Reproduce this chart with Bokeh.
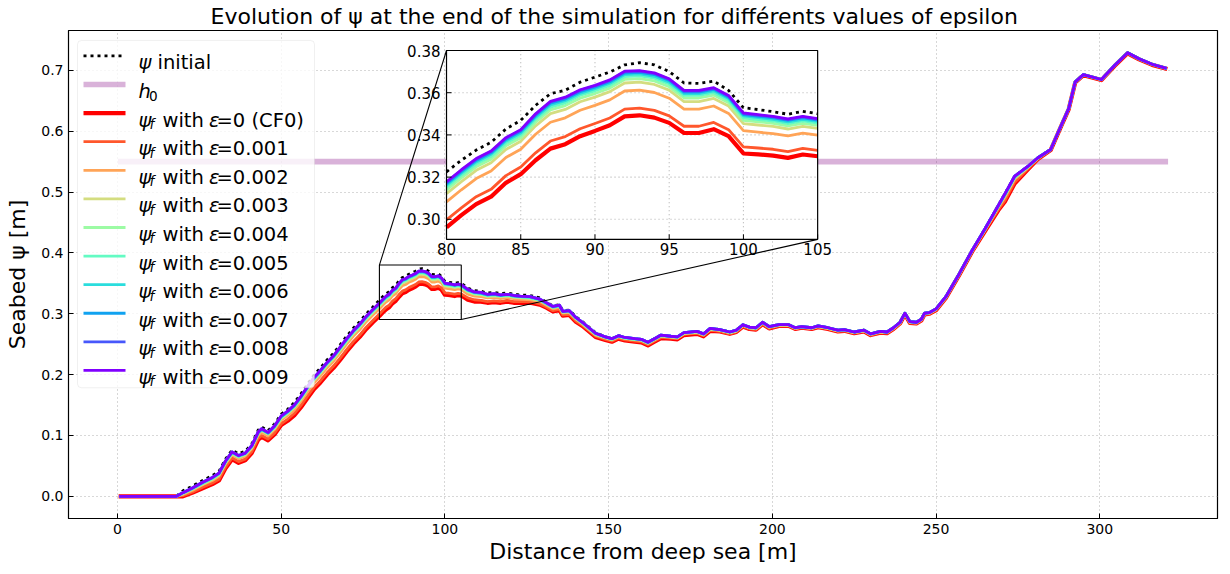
from bokeh.plotting import figure
from bokeh.models import Range1d, FixedTicker, PrintfTickFormatter, Label, BoxAnnotation
from bokeh.core.properties import value
from bokeh.embed import file_html
from bokeh.resources import INLINE

# ---------------- data ----------------
x_m = [1, 18, 20, 23, 26, 29, 31, 33, 35, 37, 39, 41, 43, 44, 46, 48, 50, 52, 54, 56, 58, 60, 62, 64, 66, 68, 70, 72, 74, 76, 78,
       80, 81, 82, 83, 84, 85, 86, 87, 88, 89, 90, 91, 92, 93, 94, 95, 96, 97, 98, 99, 100, 101, 102, 103, 104, 105,
       107, 109, 111, 113, 115, 117, 119, 121, 123, 126, 129, 131, 133, 135, 136, 138, 140, 142, 144, 146,
       149, 151, 153, 155, 158, 160, 162, 164, 166, 169, 171, 173, 177, 179, 181, 184, 187, 189, 191, 193,
       195, 197, 199, 202, 205, 207, 209, 212, 214, 217, 220, 222, 225, 228, 230, 233, 235, 237, 239, 240.5,
       242, 244, 245.5, 246.5, 248, 250, 253, 257, 261, 265, 269, 271, 274, 278, 281, 285, 288, 290.5, 292.5, 295,
       300.5, 304.5, 308.5, 312, 316, 320]

psi_initial = [0, 0, 0.009, 0.017, 0.026, 0.034, 0.041, 0.061, 0.076, 0.070, 0.074, 0.086, 0.109, 0.114, 0.108, 0.119, 0.135, 0.143, 0.154, 0.168, 0.184, 0.199, 0.211, 0.224, 0.235, 0.249, 0.263, 0.276, 0.287, 0.300, 0.311,
               0.3225, 0.3280, 0.3328, 0.3365, 0.3428, 0.3469, 0.3540, 0.3595, 0.3612, 0.3650, 0.3674, 0.3698, 0.3732, 0.3742, 0.3732, 0.3700, 0.3646, 0.3644, 0.3655, 0.3611, 0.3529, 0.3520, 0.3510, 0.3498, 0.3512, 0.3500,
               0.342, 0.338, 0.337, 0.334, 0.335, 0.333, 0.334, 0.332, 0.331, 0.330, 0.326, 0.319, 0.313, 0.315, 0.305, 0.306, 0.295, 0.287, 0.278, 0.269,
               0.262, 0.259, 0.264, 0.261, 0.259, 0.258, 0.253, 0.259, 0.265, 0.263, 0.262, 0.269, 0.271, 0.267, 0.276, 0.274, 0.270, 0.273, 0.282, 0.278,
               0.277, 0.286, 0.279, 0.282, 0.282, 0.277, 0.279, 0.277, 0.280, 0.277, 0.273, 0.274, 0.270, 0.273, 0.267, 0.271, 0.270, 0.277, 0.286, 0.301,
               0.287, 0.286, 0.291, 0.301, 0.302, 0.308, 0.328, 0.365, 0.404, 0.440, 0.478, 0.497, 0.526, 0.542, 0.556, 0.570, 0.607, 0.637, 0.681, 0.693,
               0.685, 0.708, 0.729, 0.719, 0.710, 0.704]

psi_f_eps0 = [0, 0, 0.000, 0.006, 0.013, 0.020, 0.026, 0.046, 0.061, 0.055, 0.059, 0.071, 0.093, 0.098, 0.092, 0.102, 0.117, 0.124, 0.133, 0.146, 0.161, 0.176, 0.187, 0.200, 0.211, 0.224, 0.238, 0.251, 0.262, 0.275, 0.286,
              0.2962, 0.3020, 0.3072, 0.3107, 0.3173, 0.3214, 0.3280, 0.3335, 0.3356, 0.3394, 0.3419, 0.3446, 0.3488, 0.3493, 0.3482, 0.3457, 0.3409, 0.3409, 0.3427, 0.3394, 0.3312, 0.3308, 0.3302, 0.3291, 0.3307, 0.3299,
              0.323, 0.320, 0.320, 0.318, 0.319, 0.318, 0.320, 0.318, 0.318, 0.318, 0.315, 0.310, 0.304, 0.306, 0.297, 0.298, 0.287, 0.280, 0.271, 0.262,
              0.257, 0.254, 0.259, 0.256, 0.254, 0.253, 0.248, 0.254, 0.260, 0.259, 0.258, 0.265, 0.267, 0.263, 0.272, 0.271, 0.267, 0.270, 0.279, 0.275,
              0.274, 0.283, 0.276, 0.280, 0.280, 0.275, 0.277, 0.275, 0.278, 0.275, 0.271, 0.272, 0.268, 0.271, 0.265, 0.269, 0.268, 0.275, 0.284, 0.299,
              0.285, 0.284, 0.289, 0.299, 0.300, 0.306, 0.326, 0.363, 0.402, 0.436, 0.470, 0.484, 0.514, 0.537, 0.554, 0.569, 0.606, 0.636, 0.680, 0.692,
              0.684, 0.707, 0.728, 0.718, 0.709, 0.703]

psi_f_eps1 = [0, 0, 0.001, 0.007, 0.015, 0.022, 0.028, 0.048, 0.063, 0.057, 0.061, 0.073, 0.095, 0.100, 0.094, 0.104, 0.119, 0.127, 0.136, 0.149, 0.164, 0.179, 0.190, 0.203, 0.214, 0.227, 0.241, 0.254, 0.265, 0.278, 0.289,
              0.2997, 0.3054, 0.3107, 0.3142, 0.3207, 0.3248, 0.3315, 0.3371, 0.3392, 0.3429, 0.3454, 0.3480, 0.3522, 0.3527, 0.3516, 0.3490, 0.3441, 0.3441, 0.3459, 0.3425, 0.3343, 0.3338, 0.3332, 0.3321, 0.3336, 0.3327,
              0.326, 0.323, 0.322, 0.320, 0.321, 0.320, 0.322, 0.320, 0.320, 0.320, 0.316, 0.311, 0.305, 0.307, 0.298, 0.299, 0.288, 0.281, 0.272, 0.263,
              0.258, 0.255, 0.260, 0.257, 0.255, 0.254, 0.249, 0.255, 0.261, 0.260, 0.259, 0.266, 0.268, 0.264, 0.273, 0.271, 0.267, 0.270, 0.279, 0.275,
              0.274, 0.283, 0.276, 0.280, 0.280, 0.275, 0.277, 0.275, 0.278, 0.275, 0.271, 0.272, 0.268, 0.271, 0.265, 0.269, 0.268, 0.275, 0.284, 0.299,
              0.285, 0.284, 0.289, 0.299, 0.300, 0.306, 0.326, 0.363, 0.402, 0.437, 0.471, 0.486, 0.516, 0.538, 0.554, 0.569, 0.606, 0.636, 0.680, 0.692,
              0.684, 0.707, 0.728, 0.718, 0.709, 0.703]

psi_f_eps2 = [0, 0, 0.003, 0.010, 0.019, 0.026, 0.033, 0.053, 0.068, 0.062, 0.066, 0.078, 0.100, 0.105, 0.099, 0.110, 0.125, 0.133, 0.142, 0.156, 0.171, 0.186, 0.198, 0.211, 0.222, 0.236, 0.250, 0.263, 0.274, 0.287, 0.298,
              0.3083, 0.3140, 0.3193, 0.3229, 0.3293, 0.3332, 0.3403, 0.3460, 0.3481, 0.3517, 0.3540, 0.3566, 0.3608, 0.3612, 0.3601, 0.3574, 0.3522, 0.3522, 0.3537, 0.3502, 0.3420, 0.3413, 0.3406, 0.3395, 0.3408, 0.3399,
              0.332, 0.329, 0.328, 0.326, 0.327, 0.325, 0.327, 0.325, 0.324, 0.323, 0.320, 0.314, 0.308, 0.310, 0.301, 0.302, 0.291, 0.283, 0.274, 0.265,
              0.260, 0.257, 0.262, 0.259, 0.257, 0.256, 0.251, 0.257, 0.263, 0.261, 0.260, 0.267, 0.269, 0.265, 0.274, 0.273, 0.269, 0.272, 0.281, 0.277,
              0.276, 0.285, 0.278, 0.281, 0.281, 0.276, 0.278, 0.276, 0.279, 0.276, 0.272, 0.273, 0.269, 0.272, 0.266, 0.270, 0.269, 0.276, 0.285, 0.300,
              0.286, 0.285, 0.290, 0.300, 0.301, 0.307, 0.327, 0.364, 0.403, 0.438, 0.474, 0.491, 0.521, 0.540, 0.555, 0.570, 0.607, 0.637, 0.681, 0.693,
              0.685, 0.708, 0.729, 0.719, 0.710, 0.704]

psi_f_eps3 = [0, 0, 0.004, 0.012, 0.020, 0.028, 0.035, 0.055, 0.070, 0.064, 0.068, 0.080, 0.103, 0.108, 0.102, 0.112, 0.128, 0.136, 0.146, 0.159, 0.175, 0.190, 0.202, 0.215, 0.226, 0.240, 0.254, 0.267, 0.278, 0.291, 0.302,
              0.3122, 0.3179, 0.3232, 0.3268, 0.3331, 0.3370, 0.3443, 0.3501, 0.3521, 0.3557, 0.3579, 0.3605, 0.3646, 0.3650, 0.3639, 0.3612, 0.3558, 0.3558, 0.3573, 0.3537, 0.3454, 0.3447, 0.3440, 0.3428, 0.3441, 0.3431,
              0.336, 0.332, 0.331, 0.328, 0.329, 0.328, 0.329, 0.327, 0.326, 0.325, 0.322, 0.316, 0.310, 0.312, 0.302, 0.303, 0.292, 0.284, 0.275, 0.266,
              0.261, 0.258, 0.263, 0.260, 0.258, 0.257, 0.252, 0.258, 0.264, 0.262, 0.261, 0.268, 0.270, 0.266, 0.275, 0.273, 0.269, 0.272, 0.281, 0.277,
              0.276, 0.285, 0.278, 0.281, 0.281, 0.276, 0.278, 0.276, 0.279, 0.276, 0.272, 0.273, 0.269, 0.272, 0.266, 0.270, 0.269, 0.276, 0.285, 0.300,
              0.286, 0.285, 0.290, 0.300, 0.301, 0.307, 0.327, 0.364, 0.403, 0.439, 0.476, 0.494, 0.523, 0.541, 0.555, 0.570, 0.607, 0.637, 0.681, 0.693,
              0.685, 0.708, 0.729, 0.719, 0.710, 0.704]

psi_f_eps4 = [0, 0, 0.005, 0.013, 0.021, 0.029, 0.036, 0.056, 0.071, 0.065, 0.069, 0.081, 0.104, 0.109, 0.103, 0.114, 0.129, 0.137, 0.147, 0.161, 0.177, 0.192, 0.204, 0.217, 0.228, 0.241, 0.255, 0.268, 0.279, 0.292, 0.303,
              0.3139, 0.3196, 0.3249, 0.3285, 0.3348, 0.3387, 0.3460, 0.3519, 0.3539, 0.3574, 0.3596, 0.3622, 0.3663, 0.3667, 0.3656, 0.3628, 0.3575, 0.3575, 0.3589, 0.3552, 0.3469, 0.3462, 0.3455, 0.3443, 0.3455, 0.3445,
              0.337, 0.333, 0.332, 0.330, 0.331, 0.329, 0.330, 0.328, 0.327, 0.326, 0.322, 0.317, 0.311, 0.313, 0.303, 0.304, 0.293, 0.285, 0.276, 0.267,
              0.261, 0.258, 0.263, 0.260, 0.258, 0.257, 0.252, 0.258, 0.264, 0.262, 0.261, 0.268, 0.270, 0.266, 0.275, 0.273, 0.269, 0.272, 0.281, 0.277,
              0.276, 0.285, 0.278, 0.282, 0.282, 0.277, 0.279, 0.277, 0.280, 0.277, 0.273, 0.274, 0.270, 0.273, 0.267, 0.271, 0.270, 0.277, 0.286, 0.301,
              0.287, 0.286, 0.291, 0.301, 0.302, 0.308, 0.328, 0.365, 0.404, 0.439, 0.477, 0.495, 0.524, 0.541, 0.556, 0.570, 0.607, 0.637, 0.681, 0.693,
              0.685, 0.708, 0.729, 0.719, 0.710, 0.704]

psi_f_eps5 = [0, 0, 0.005, 0.013, 0.022, 0.030, 0.037, 0.057, 0.072, 0.066, 0.070, 0.082, 0.105, 0.110, 0.104, 0.114, 0.130, 0.138, 0.148, 0.162, 0.178, 0.193, 0.205, 0.218, 0.229, 0.243, 0.257, 0.270, 0.281, 0.294, 0.305,
              0.3152, 0.3209, 0.3262, 0.3298, 0.3361, 0.3400, 0.3474, 0.3532, 0.3552, 0.3588, 0.3609, 0.3635, 0.3676, 0.3680, 0.3669, 0.3641, 0.3587, 0.3587, 0.3600, 0.3564, 0.3481, 0.3473, 0.3466, 0.3454, 0.3466, 0.3456,
              0.338, 0.334, 0.333, 0.330, 0.331, 0.330, 0.331, 0.329, 0.328, 0.327, 0.323, 0.317, 0.311, 0.313, 0.303, 0.304, 0.293, 0.285, 0.276, 0.267,
              0.261, 0.258, 0.263, 0.260, 0.258, 0.257, 0.252, 0.258, 0.264, 0.263, 0.262, 0.269, 0.271, 0.267, 0.276, 0.274, 0.270, 0.273, 0.282, 0.278,
              0.277, 0.286, 0.279, 0.282, 0.282, 0.277, 0.279, 0.277, 0.280, 0.277, 0.273, 0.274, 0.270, 0.273, 0.267, 0.271, 0.270, 0.277, 0.286, 0.301,
              0.287, 0.286, 0.291, 0.301, 0.302, 0.308, 0.328, 0.365, 0.404, 0.440, 0.477, 0.496, 0.525, 0.541, 0.556, 0.570, 0.607, 0.637, 0.681, 0.693,
              0.685, 0.708, 0.729, 0.719, 0.710, 0.704]

psi_f_eps6 = [0, 0, 0.006, 0.013, 0.022, 0.030, 0.037, 0.057, 0.072, 0.066, 0.070, 0.082, 0.105, 0.110, 0.104, 0.115, 0.131, 0.139, 0.149, 0.163, 0.179, 0.194, 0.206, 0.219, 0.230, 0.244, 0.258, 0.271, 0.282, 0.295, 0.306,
              0.3162, 0.3219, 0.3272, 0.3308, 0.3371, 0.3409, 0.3483, 0.3542, 0.3562, 0.3597, 0.3619, 0.3645, 0.3686, 0.3689, 0.3678, 0.3650, 0.3596, 0.3596, 0.3609, 0.3573, 0.3490, 0.3482, 0.3474, 0.3462, 0.3474, 0.3464,
              0.339, 0.335, 0.334, 0.331, 0.332, 0.330, 0.331, 0.329, 0.328, 0.327, 0.323, 0.317, 0.311, 0.313, 0.304, 0.305, 0.294, 0.286, 0.277, 0.268,
              0.262, 0.259, 0.264, 0.261, 0.259, 0.258, 0.253, 0.259, 0.265, 0.263, 0.262, 0.269, 0.271, 0.267, 0.276, 0.274, 0.270, 0.273, 0.282, 0.278,
              0.277, 0.286, 0.279, 0.282, 0.282, 0.277, 0.279, 0.277, 0.280, 0.277, 0.273, 0.274, 0.270, 0.273, 0.267, 0.271, 0.270, 0.277, 0.286, 0.301,
              0.287, 0.286, 0.291, 0.301, 0.302, 0.308, 0.328, 0.365, 0.404, 0.440, 0.477, 0.496, 0.525, 0.542, 0.556, 0.570, 0.607, 0.637, 0.681, 0.693,
              0.685, 0.708, 0.729, 0.719, 0.710, 0.704]

psi_f_eps7 = [0, 0, 0.006, 0.014, 0.023, 0.031, 0.038, 0.058, 0.073, 0.067, 0.071, 0.083, 0.105, 0.110, 0.104, 0.115, 0.131, 0.139, 0.149, 0.163, 0.179, 0.194, 0.206, 0.219, 0.230, 0.244, 0.258, 0.271, 0.282, 0.295, 0.306,
              0.3169, 0.3226, 0.3279, 0.3315, 0.3378, 0.3417, 0.3491, 0.3550, 0.3570, 0.3605, 0.3626, 0.3652, 0.3693, 0.3697, 0.3686, 0.3658, 0.3603, 0.3603, 0.3616, 0.3579, 0.3496, 0.3488, 0.3481, 0.3469, 0.3481, 0.3470,
              0.339, 0.335, 0.334, 0.331, 0.332, 0.330, 0.332, 0.330, 0.329, 0.328, 0.324, 0.318, 0.312, 0.314, 0.304, 0.305, 0.294, 0.286, 0.277, 0.268,
              0.262, 0.259, 0.264, 0.261, 0.259, 0.258, 0.253, 0.259, 0.265, 0.263, 0.262, 0.269, 0.271, 0.267, 0.276, 0.274, 0.270, 0.273, 0.282, 0.278,
              0.277, 0.286, 0.279, 0.282, 0.282, 0.277, 0.279, 0.277, 0.280, 0.277, 0.273, 0.274, 0.270, 0.273, 0.267, 0.271, 0.270, 0.277, 0.286, 0.301,
              0.287, 0.286, 0.291, 0.301, 0.302, 0.308, 0.328, 0.365, 0.404, 0.440, 0.478, 0.496, 0.526, 0.542, 0.556, 0.570, 0.607, 0.637, 0.681, 0.693,
              0.685, 0.708, 0.729, 0.719, 0.710, 0.704]

psi_f_eps8 = [0, 0, 0.006, 0.014, 0.023, 0.031, 0.038, 0.058, 0.073, 0.067, 0.071, 0.083, 0.106, 0.111, 0.105, 0.116, 0.132, 0.140, 0.150, 0.164, 0.180, 0.195, 0.207, 0.220, 0.231, 0.245, 0.259, 0.272, 0.283, 0.296, 0.307,
              0.3175, 0.3232, 0.3285, 0.3321, 0.3384, 0.3422, 0.3497, 0.3556, 0.3576, 0.3611, 0.3632, 0.3658, 0.3699, 0.3702, 0.3691, 0.3663, 0.3608, 0.3608, 0.3621, 0.3584, 0.3501, 0.3493, 0.3485, 0.3473, 0.3485, 0.3474,
              0.340, 0.336, 0.335, 0.332, 0.333, 0.331, 0.332, 0.330, 0.329, 0.328, 0.324, 0.318, 0.312, 0.314, 0.304, 0.305, 0.294, 0.286, 0.277, 0.268,
              0.262, 0.259, 0.264, 0.261, 0.259, 0.258, 0.253, 0.259, 0.265, 0.263, 0.262, 0.269, 0.271, 0.267, 0.276, 0.274, 0.270, 0.273, 0.282, 0.278,
              0.277, 0.286, 0.279, 0.282, 0.282, 0.277, 0.279, 0.277, 0.280, 0.277, 0.273, 0.274, 0.270, 0.273, 0.267, 0.271, 0.270, 0.277, 0.286, 0.301,
              0.287, 0.286, 0.291, 0.301, 0.302, 0.308, 0.328, 0.365, 0.404, 0.440, 0.478, 0.497, 0.526, 0.542, 0.556, 0.570, 0.607, 0.637, 0.681, 0.693,
              0.685, 0.708, 0.729, 0.719, 0.710, 0.704]

psi_f_eps9 = [0, 0, 0.006, 0.014, 0.023, 0.031, 0.038, 0.058, 0.073, 0.067, 0.071, 0.083, 0.106, 0.111, 0.105, 0.116, 0.132, 0.140, 0.150, 0.164, 0.180, 0.195, 0.207, 0.220, 0.231, 0.245, 0.259, 0.272, 0.283, 0.296, 0.307,
              0.3178, 0.3235, 0.3288, 0.3324, 0.3387, 0.3425, 0.3500, 0.3559, 0.3579, 0.3614, 0.3635, 0.3661, 0.3702, 0.3705, 0.3694, 0.3666, 0.3611, 0.3611, 0.3624, 0.3587, 0.3504, 0.3496, 0.3488, 0.3476, 0.3488, 0.3477,
              0.340, 0.336, 0.335, 0.332, 0.333, 0.331, 0.332, 0.330, 0.329, 0.328, 0.324, 0.318, 0.312, 0.314, 0.304, 0.305, 0.294, 0.286, 0.277, 0.268,
              0.262, 0.259, 0.264, 0.261, 0.259, 0.258, 0.253, 0.259, 0.265, 0.263, 0.262, 0.269, 0.271, 0.267, 0.276, 0.274, 0.270, 0.273, 0.282, 0.278,
              0.277, 0.286, 0.279, 0.282, 0.282, 0.277, 0.279, 0.277, 0.280, 0.277, 0.273, 0.274, 0.270, 0.273, 0.267, 0.271, 0.270, 0.277, 0.286, 0.301,
              0.287, 0.286, 0.291, 0.301, 0.302, 0.308, 0.328, 0.365, 0.404, 0.440, 0.478, 0.497, 0.526, 0.542, 0.556, 0.570, 0.607, 0.637, 0.681, 0.693,
              0.685, 0.708, 0.729, 0.719, 0.710, 0.704]

epsilons = ["0", "0.001", "0.002", "0.003", "0.004", "0.005", "0.006", "0.007", "0.008", "0.009"]
series_colors = ["#ff0000", "#ff572c", "#ffa457", "#d4dd80", "#9cfba4", "#63fbc3", "#2adddd", "#10a2f0", "#4757fb", "#8000ff"]
h0_x = [1, 320]
h0_y = [0.55, 0.55]

x_ticks = [0, 50, 100, 150, 200, 250, 300]
y_ticks = [0.0, 0.1, 0.2, 0.3, 0.4, 0.5, 0.6, 0.7]
inset_x_ticks = [80, 85, 90, 95, 100, 105]
inset_y_ticks = [0.30, 0.32, 0.34, 0.36, 0.38]
inset_xlim = (80, 105)
inset_ylim = (0.2905, 0.38)
inset_box = (0.329, 0.572, 0.652, 0.959)   # left, bottom, right, top (axes fraction)

title_text = "Evolution of ψ at the end of the simulation for différents values of epsilon"

# ---------------- layout ----------------
W, H = 1222, 566
BL, BR, BT, BB = 68, 5, 30, 47
FW, FH = W - BL - BR, H - BT - BB
FONT = "DejaVu Sans"

xr = Range1d(-14.95, 335.95)
yr = Range1d(-0.0365, 0.7655)

p = figure(width=W, height=H, x_range=xr, y_range=yr, output_backend="svg",
           toolbar_location=None, min_border_left=BL, min_border_right=BR,
           min_border_top=BT, min_border_bottom=BB)
p.outline_line_color = "black"
p.outline_line_width = 1.2
p.background_fill_color = "white"
p.border_fill_color = "white"

p.title.text = title_text
p.title.text_font = FONT
p.title.text_font_size = "22px"
p.title.text_font_style = "normal"
p.title.text_color = "black"
p.title.align = "left"
p.title.offset = 142
p.title.standoff = 3

for ax in (p.xaxis[0], p.yaxis[0]):
    ax.major_tick_in = 5
    ax.major_tick_out = 0
    ax.minor_tick_line_color = None
    ax.major_tick_line_color = "black"
    ax.axis_line_color = "black"
    ax.major_label_text_font = FONT
    ax.major_label_text_font_size = "14px"
    ax.major_label_text_color = "black"
    ax.major_label_standoff = 5
    ax.axis_label_text_font = FONT
    ax.axis_label_text_font_size = "22px"
    ax.axis_label_text_font_style = "normal"
    ax.axis_label_text_color = "black"
p.xaxis.ticker = FixedTicker(ticks=x_ticks)
p.yaxis.ticker = FixedTicker(ticks=y_ticks)
p.yaxis.formatter = PrintfTickFormatter(format="%.1f")
p.xaxis.axis_label = "Distance from deep sea [m]"
p.yaxis.axis_label = "Seabed ψ [m]"
p.xaxis.axis_label_standoff = 2
p.yaxis.axis_label_standoff = 8
for g in (p.xgrid[0], p.ygrid[0]):
    g.grid_line_color = "#b0b0b0"
    g.grid_line_dash = "1 3"
    g.grid_line_width = 1.1

# ---------------- main curves ----------------
series = [psi_f_eps0, psi_f_eps1, psi_f_eps2, psi_f_eps3, psi_f_eps4,
          psi_f_eps5, psi_f_eps6, psi_f_eps7, psi_f_eps8, psi_f_eps9]
widths = [4.2] + [2.8] * 9

p.line(x_m, psi_initial, line_color="black", line_width=2.8, line_dash="3 4")
p.line(h0_x, h0_y, line_color="#800080", line_alpha=0.3, line_width=5.6, line_cap="square")
for ys, c, w in zip(series, series_colors, widths):
    p.line(x_m, ys, line_color=c, line_width=w, line_join="round", line_cap="square")

# ---------------- inset ----------------
il, ib, ir, it = inset_box
ix0, ix1 = inset_xlim
iy0, iy1 = inset_ylim
ixspan = (ix1 - ix0) / (ir - il)
iyspan = (iy1 - iy0) / (it - ib)
p.extra_x_ranges = {"ix": Range1d(ix0 - il * ixspan, ix0 - il * ixspan + ixspan)}
p.extra_y_ranges = {"iy": Range1d(iy0 - ib * iyspan, iy0 - ib * iyspan + iyspan)}
IN = dict(x_range_name="ix", y_range_name="iy")


def fx(f):
    return xr.start + f * (xr.end - xr.start)


def fy(f):
    return yr.start + f * (yr.end - yr.start)


# zoom rectangle on the main axes and connector lines
p.quad(left=[ix0], right=[ix1], bottom=[iy0], top=[iy1], fill_alpha=0,
       line_color="black", line_width=1.1)
p.segment(x0=[ix0, ix1], y0=[iy1, iy0], x1=[fx(il), fx(ir)], y1=[fy(it), fy(ib)],
          line_color="black", line_width=1.1)

# inset background
p.quad(left=[ix0], right=[ix1], bottom=[iy0], top=[iy1], fill_color="white",
       line_color=None, **IN)
# inset grid
gx = inset_x_ticks[1:-1]
gy = inset_y_ticks[:-1]
p.segment(x0=gx, y0=[iy0] * len(gx), x1=gx, y1=[iy1] * len(gx),
          line_color="#b0b0b0", line_dash="1 3", line_width=1.1, **IN)
p.segment(x0=[ix0] * len(gy), y0=gy, x1=[ix1] * len(gy), y1=gy,
          line_color="#b0b0b0", line_dash="1 3", line_width=1.1, **IN)

idx = [i for i, xv in enumerate(x_m) if ix0 <= xv <= ix1]
xin = [x_m[i] for i in idx]
p.line(xin, [psi_initial[i] for i in idx], line_color="black", line_width=2.8,
       line_dash="3 4", **IN)
for ys, c, w in zip(series, series_colors, widths):
    p.line(xin, [ys[i] for i in idx], line_color=c, line_width=w, line_join="round", **IN)

# inset frame, ticks, labels
p.quad(left=[ix0], right=[ix1], bottom=[iy0], top=[iy1], fill_alpha=0,
       line_color="black", line_width=1.2, **IN)
dxp = ixspan / FW
dyp = iyspan / FH
p.segment(x0=inset_x_ticks, y0=[iy0] * 6, x1=inset_x_ticks, y1=[iy0 + 5 * dyp] * 6,
          line_color="black", line_width=1, **IN)
p.segment(x0=[ix0] * 5, y0=inset_y_ticks, x1=[ix0 + 5 * dxp] * 5, y1=inset_y_ticks,
          line_color="black", line_width=1, **IN)
p.text(x=inset_x_ticks, y=[iy0] * 6, text=[str(t) for t in inset_x_ticks],
       text_align="center", text_baseline="top", y_offset=4,
       text_font=value(FONT), text_font_size=value("15px"), text_color="black", **IN)
p.text(x=[ix0] * 5, y=inset_y_ticks, text=["%.2f" % t for t in inset_y_ticks],
       text_align="right", text_baseline="middle", x_offset=-6,
       text_font=value(FONT), text_font_size=value("15px"), text_color="black", **IN)


# ---------------- legend (box, handles and texts) ----------------
def dx(px):
    return xr.start + px * (xr.end - xr.start) / FW


def dy(py):
    return yr.start + py * (yr.end - yr.start) / FH


p.add_layout(BoxAnnotation(left=dx(9), right=dx(246), top=dy(FH - 10), bottom=dy(FH - 358),
                           fill_color="white", fill_alpha=0.8, line_color="#cccccc",
                           line_width=1, border_radius=4))

handle_x = [dx(15), dx(57)]
handle_styles = [dict(line_color="black", line_width=2.8, line_dash="3 4"),
                 dict(line_color="#800080", line_alpha=0.3, line_width=5.6)]
handle_styles += [dict(line_color=c, line_width=w) for c, w in zip(series_colors, widths)]


def put(text, px, py, size="19.5px", style="normal", align="left", baseline="alphabetic"):
    p.add_layout(Label(x=dx(px), y=dy(py), text=text, text_font=FONT, text_font_size=size,
                       text_font_style=style, text_color="black", text_align=align,
                       text_baseline=baseline))


for i in range(12):
    center = FH - 25.5 - 28.65 * i
    p.line(handle_x, [dy(center), dy(center)], level="overlay", **handle_styles[i])
    base = center - 7
    if i == 0:
        put("ψ", 70, base, style="italic")
        put("initial", 89, base)
    elif i == 1:
        put("h", 70, base, style="italic")
        put("0", 80.5, base - 4, size="13.6px")
    else:
        e = epsilons[i - 2]
        put("ψ", 70, base, style="italic")
        put("f", 81, base - 4, size="13.6px", style="italic")
        put("with", 94, base)
        put("ε", 140.5, base, style="italic")
        put("=" + e + (" (CF0)" if e == "0" else ""), 148, base)

open("out.html", "w").write(file_html(p, INLINE))
